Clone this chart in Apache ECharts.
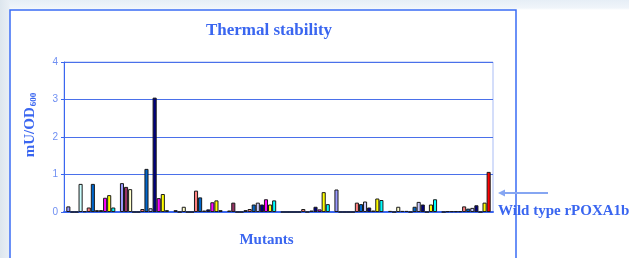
<!DOCTYPE html>
<html>
<head>
<meta charset="utf-8">
<script src="https://cdn.jsdelivr.net/npm/echarts@6/dist/echarts.min.js"></script>
<style>
html,body{margin:0;padding:0;}
body{width:629px;height:258px;overflow:hidden;
background:
 linear-gradient(to right, #dde6ee 0px, #e9eff5 9px, rgba(255,255,255,0) 10px),
 linear-gradient(to bottom, #e6eef6 0px, #f0f5fa 8px, #ffffff 10px);}
#chart{width:629px;height:258px;}
</style>
</head>
<body>
<div id="chart"></div>
<script>
// Categories (mutant groups) – no labels shown on the axis
const categories = ['G1','G2','G3','G4','G5','G6','G7','G8'];
const yTicks = [0, 1, 2, 3, 4];

// Series values (mU/OD600) per group, Excel default palette order
const s1  = [0.15, 0.77, 0.05, 0.04, 0,    0.60, 0.03, 0];
const s2  = [0,    0.67, 0,    0.25, 0,    0,    0,    0.02];
const s3  = [0,    0.61, 0.14, 0,    0,    0,    0.14, 0.02];
const s4  = [0.75, 0,    0,    0,    0,    0,    0.03, 0.02];
const s5  = [0.02, 0,    0,    0.05, 0,    0,    0.03, 0.02];
const s6  = [0.12, 0.08, 0.57, 0.08, 0.08, 0.25, 0,    0.15];
const s7  = [0.75, 1.15, 0.39, 0.20, 0,    0.21, 0.14, 0.09];
const s8  = [0.05, 0.10, 0.04, 0.25, 0.04, 0.28, 0.27, 0.11];
const s9  = [0.05, 3.05, 0.07, 0.20, 0.14, 0.12, 0.20, 0.18];
const s10 = [0.38, 0.37, 0.26, 0.34, 0.07, 0.04, 0,    0];
const s11 = [0.45, 0.48, 0.31, 0.20, 0.53, 0.36, 0.20, 0.25];
const s12 = [0.12, 0.05, 0.05, 0.31, 0.21, 0.32, 0.34, 1.07];
const seriesValues = [s1,s2,s3,s4,s5,s6,s7,s8,s9,s10,s11,s12];
const seriesColors = ['#9999FF','#993366','#FFFFCC','#CCFFFF','#660066','#FF8080',
                      '#0066CC','#CCCCFF','#000080','#FF00FF','#FFFF00','#00FFFF'];
const wildTypeSeries = 11, wildTypeIndex = 7;

const blue = '#3a66f0';
const serif = '"Liberation Serif","DejaVu Serif",serif';

const series = seriesValues.map((vals, i) => ({
  type: 'bar',
  name: 'S' + (i + 1),
  barGap: '0%',
  barCategoryGap: '8.6%',
  data: vals.map((v, j) => (i === wildTypeSeries && j === wildTypeIndex)
      ? {value: v, itemStyle: {color: '#FF0000'}} : v),
  itemStyle: {color: seriesColors[i], borderColor: '#1a1a1a', borderWidth: 1},
  animation: false
}));

const chart = echarts.init(document.getElementById('chart'), null, {renderer: 'canvas'});
chart.setOption({
  backgroundColor: 'transparent',
  animation: false,
  title: {
    text: 'Thermal stability',
    left: 264, top: 17, textAlign: 'center',
    textStyle: {fontFamily: serif, fontWeight: 'bold', fontSize: 17, color: blue}
  },
  grid: {left: 64, right: 136, top: 62, bottom: 46, show: true,
         borderColor: '#a9bcf5', borderWidth: 1, backgroundColor: 'transparent'},
  xAxis: {
    type: 'category', data: categories,
    name: 'Mutants', nameLocation: 'middle', nameGap: 21,
    nameTextStyle: {fontFamily: serif, fontWeight: 'bold', fontSize: 15, color: blue, padding: [0, 24, 0, 0]},
    axisLine: {lineStyle: {color: blue, width: 2}},
    axisTick: {show: false}, axisLabel: {show: false}, splitLine: {show: false}
  },
  yAxis: {
    type: 'value', min: yTicks[0], max: yTicks[yTicks.length - 1], interval: 1,
    name: '{a|mU/OD}{b|600}', nameLocation: 'middle', nameGap: 26, nameRotate: 90,
    nameTextStyle: {
      padding: [0, 0, 0, 24],
      rich: {
        a: {fontFamily: serif, fontWeight: 'bold', fontSize: 15, color: blue},
        b: {fontFamily: serif, fontWeight: 'bold', fontSize: 9, color: blue, padding: [7, 0, 0, 1]}
      }
    },
    axisLine: {show: true, lineStyle: {color: blue, width: 1}},
    axisTick: {show: true, length: 3, inside: false, lineStyle: {color: blue}},
    axisLabel: {color: '#6f8ff2', fontSize: 10, margin: 6, fontFamily: '"Liberation Sans",Arial,sans-serif'},
    splitLine: {show: true, lineStyle: {color: '#4a70ea', width: 1}}
  },
  graphic: [
    {type: 'polyline', shape: {points: [[10, 270], [10, 10], [516, 10], [516, 270]]},
     style: {stroke: '#3a6cf5', lineWidth: 1.5, fill: null}, z: 0},
    {type: 'line', shape: {x1: 503, y1: 193, x2: 548, y2: 193},
     style: {stroke: '#86a6f2', lineWidth: 2}},
    {type: 'polygon', shape: {points: [[498, 193], [505, 189.5], [505, 196.5]]},
     style: {fill: '#86a6f2'}},
    {type: 'text', left: 498, top: 204,
     style: {text: 'Wild type rPOXA1b', font: 'bold 15px ' + serif, fill: blue}}
  ],
  series: series
});
</script>
</body>
</html>
